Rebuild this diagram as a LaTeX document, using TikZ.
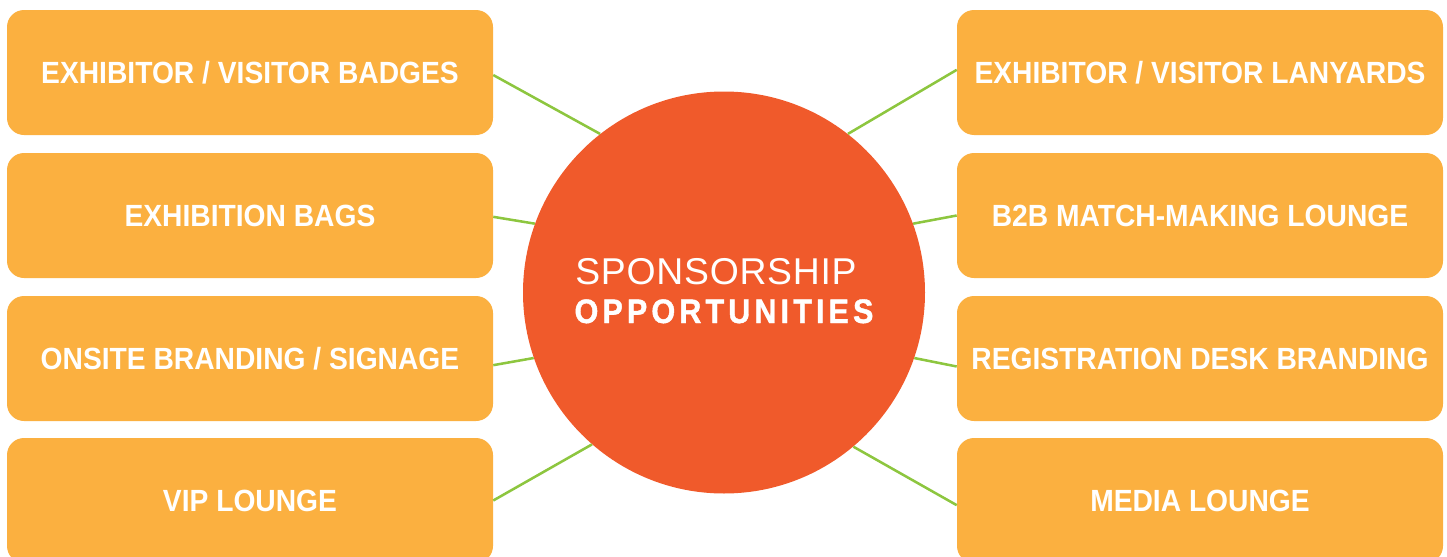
\documentclass[tikz,border=0pt]{standalone}
\usepackage{fontspec}
\setmainfont{Liberation Sans}
\newfontfamily\boxfont{Liberation Sans}[FakeStretch=0.92]
\newfontfamily\condfont{Liberation Sans}[FakeStretch=0.9,LetterSpace=12,FakeBold=1.2]
\newfontfamily\spfont{Liberation Sans}[LetterSpace=2]
\definecolor{boxorange}{HTML}{FBB040}
\definecolor{hubred}{HTML}{F05A2B}
\definecolor{linkgreen}{HTML}{8DC63F}

\begin{document}
\begin{tikzpicture}[x=0.75pt,y=-0.75pt,
        box/.style={rounded corners=12.75pt,fill=boxorange,minimum width=364.5pt,minimum height=93.75pt,inner sep=0pt,text=white,font=\boxfont\bfseries\fontsize{23}{27}\selectfont},
        hub/.style={circle,fill=hubred,minimum size=301.5pt,inner sep=0pt},
        link/.style={linkgreen,line width=1.9pt}]
    \useasboundingbox (0,0) rectangle (1447,557);
    % left column
    \node[box] (lb1) at (250,72.5) {EXHIBITOR / VISITOR BADGES};
    \node[box] (lb2) at (250,215.5) {EXHIBITION BAGS};
    \node[box] (lb3) at (250,358.5) {ONSITE BRANDING / SIGNAGE};
    \node[box] (lb4) at (250,500.5) {VIP LOUNGE};
    % right column
    \node[box] (rb1) at (1200,72.5) {EXHIBITOR / VISITOR LANYARDS};
    \node[box] (rb2) at (1200,215.5) {B2B MATCH-MAKING LOUNGE};
    \node[box] (rb3) at (1200,358.5) {REGISTRATION DESK BRANDING};
    \node[box] (rb4) at (1200,500.5) {MEDIA LOUNGE};
    % centre
    \node[hub] (hub) at (724,292.5) {};
    \node[anchor=base,text=white,inner sep=0pt,font=\spfont\fontsize{28}{30}\selectfont] (sp) at (716,284) {SPONSORSHIP};
    \node[anchor=base,text=white,inner sep=0pt,font=\condfont\bfseries\fontsize{25.5}{28}\selectfont] (op) at (724,323) {OPPORTUNITIES};
    % links
    \draw[link] ([yshift=-1.9pt]lb1.east) -- (hub.128.5);
    \draw[link] ([yshift=-1pt]lb2.east) -- (hub.160.6);
    \draw[link] ([yshift=-5pt]lb3.east) -- (hub.199);
    \draw[link] (lb4.east) -- (hub.229.6);
    \draw[link] ([yshift=2pt]rb1.west) -- (hub.52);
    \draw[link] (rb2.west) -- (hub.20);
    \draw[link] ([yshift=-6pt]rb3.west) -- (hub.-19.7);
    \draw[link] ([yshift=-3.5pt]rb4.west) -- (hub.-50.4);
\end{tikzpicture}
\end{document}
